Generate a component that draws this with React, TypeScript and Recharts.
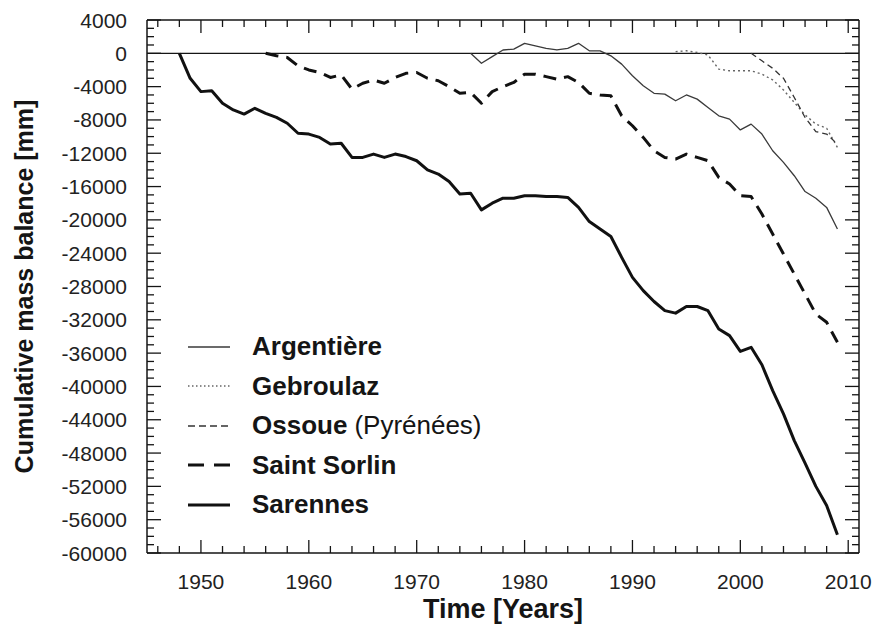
import { LineChart, Line, XAxis, YAxis, ReferenceLine, Legend } from "recharts";

// cumulative mass balance, mm w.e., one value per year from the start year
const argentiereStart = 1975;
const argentiere = [
    0, -1200, -400, 400, 500, 1200, 900, 600, 400, 600, 1200, 300, 300, -300, -1300,
    -2700, -3900, -4800, -4900, -5700, -5000, -5500, -6500, -7500, -7900, -9200, -8500,
    -9700, -11700, -13100, -14700, -16600, -17400, -18500, -21100,
];

const gebroulazStart = 1994;
const gebroulaz = [
    200, 300, 100, -200, -1900, -2100, -2100, -2100, -2500, -3200, -4400, -5900, -7400,
    -8500, -9000, -11300,
];

const ossoueStart = 2001;
const ossoue = [0, -900, -1800, -3000, -5300, -7700, -9400, -9700, -10900];

const saintSorlinStart = 1956;
const saintSorlin = [
    0, -300, -500, -1500, -2000, -2300, -2900, -2600, -4300, -3600, -3200, -3600, -2900,
    -2400, -2300, -3000, -3300, -4000, -4800, -4700, -6000, -4600, -4000, -3500, -2500,
    -2500, -2800, -3100, -2800, -3500, -4800, -5000, -5100, -7500, -8700, -10100, -11700,
    -12500, -12700, -12100, -12500, -12900, -14900, -15700, -17100, -17200, -19300, -21700,
    -24100, -26500, -28900, -31300, -32300, -34700,
];

const sarennesStart = 1948;
const sarennes = [
    0, -3000, -4600, -4500, -6000, -6800, -7300, -6600, -7200, -7700, -8400, -9600, -9700,
    -10100, -10900, -10800, -12500, -12500, -12100, -12500, -12100, -12400, -12900, -14000,
    -14500, -15400, -16900, -16800, -18800, -18000, -17400, -17400, -17100, -17100, -17200,
    -17200, -17300, -18500, -20200, -21100, -22000, -24500, -26900, -28500, -29800, -30900,
    -31200, -30400, -30400, -30900, -33100, -33900, -35800, -35300, -37400, -40500, -43300,
    -46500, -49200, -52000, -54300, -57800,
];

const xMajor = [1950, 1960, 1970, 1980, 1990, 2000, 2010];
const yMajor = [
    4000, 0, -4000, -8000, -12000, -16000, -20000, -24000, -28000, -32000, -36000, -40000,
    -44000, -48000, -52000, -56000, -60000,
];
const xDomain = [1945, 2011];
const yDomain = [-60000, 4000];

// minor ticks: every 2 years, every 1000 mm
const xTicks = Array.from({ length: 33 }, (_, i) => 1946 + i * 2);
const yTicks = Array.from({ length: 65 }, (_, i) => 4000 - i * 1000);

const pick = (values: number[], start: number, year: number) => {
    const v = values[year - start];
    return year >= start && v !== undefined ? v : undefined;
};

const rows = Array.from({ length: 2009 - 1948 + 1 }, (_, i) => 1948 + i).map((year) => ({
    year,
    argentiere: pick(argentiere, argentiereStart, year),
    gebroulaz: pick(gebroulaz, gebroulazStart, year),
    ossoue: pick(ossoue, ossoueStart, year),
    saintSorlin: pick(saintSorlin, saintSorlinStart, year),
    sarennes: pick(sarennes, sarennesStart, year),
}));

const FONT = "'Liberation Sans', Arial, sans-serif";
const INK = "#151515";

const series = [
    { key: "argentiere", name: "Argentière", stroke: "#3a3a3a", width: 1.3, dash: undefined, legendDash: undefined },
    { key: "gebroulaz", name: "Gebroulaz", stroke: "#666", width: 1.4, dash: "2 3", legendDash: "1.5 2.5" },
    { key: "ossoue", name: "Ossoue", stroke: "#333", width: 1.3, dash: "6 4", legendDash: "7 4" },
    { key: "saintSorlin", name: "Saint Sorlin", stroke: "#111", width: 3, dash: "13 8", legendDash: "16 10" },
    { key: "sarennes", name: "Sarennes", stroke: "#111", width: 3, dash: undefined, legendDash: undefined },
];

const legendNote: Record<string, string> = { Ossoue: "(Pyrénées)" };

// ticks point into the plot; long ones at labelled values
const BottomTick = ({ x, y, payload }: any) => {
    const major = xMajor.includes(payload.value);
    return (
        <g>
            <line x1={x} y1={y} x2={x} y2={y - (major ? 13 : 7)} stroke={INK} strokeWidth={1.3} />
            {major && (
                <text x={x} y={y + 28} textAnchor="middle" dominantBaseline="central" fontSize={21} fontFamily={FONT} fill="#222">
                    {payload.value}
                </text>
            )}
        </g>
    );
};

const TopTick = ({ x, y, payload }: any) => {
    const major = xMajor.includes(payload.value);
    return <line x1={x} y1={y} x2={x} y2={y + (major ? 13 : 7)} stroke={INK} strokeWidth={1.3} />;
};

const LeftTick = ({ x, y, payload }: any) => {
    const major = yMajor.includes(payload.value);
    return (
        <g>
            <line x1={x} y1={y} x2={x + (major ? 14 : 7)} y2={y} stroke={INK} strokeWidth={1.3} />
            {major && (
                <text x={x - 20} y={y} textAnchor="end" dominantBaseline="central" fontSize={21} fontFamily={FONT} fill="#222">
                    {payload.value}
                </text>
            )}
        </g>
    );
};

const RightTick = ({ x, y, payload }: any) => {
    const major = yMajor.includes(payload.value);
    return <line x1={x} y1={y} x2={x - (major ? 14 : 7)} y2={y} stroke={INK} strokeWidth={1.3} />;
};

const GlacierLegend = ({ payload }: any) => (
    <div style={{ fontFamily: FONT, color: INK }}>
        {(payload || []).map((entry: any) => {
            const s = series.find((item) => item.name === entry.value);
            if (!s) return null;
            return (
                <div key={s.key} style={{ display: "flex", alignItems: "center", height: 39.5 }}>
                    <svg width={42} height={6}>
                        <line x1={0} y1={3} x2={42} y2={3} stroke={s.stroke} strokeWidth={s.width} strokeDasharray={s.legendDash} />
                    </svg>
                    <span style={{ marginLeft: 22, fontSize: 26, fontWeight: 700, whiteSpace: "nowrap" }}>{s.name}</span>
                    {legendNote[s.name] && (
                        <span style={{ marginLeft: 7, fontSize: 26, fontWeight: 400, whiteSpace: "nowrap" }}>{legendNote[s.name]}</span>
                    )}
                </div>
            );
        })}
    </div>
);

export default function App() {
    return (
        <div style={{ position: "absolute", left: 0, top: 0, background: "#fff" }}>
            <LineChart width={874} height={633} data={rows} margin={{ top: 19, right: 14, bottom: 0, left: 0 }}>
                <XAxis
                    dataKey="year"
                    type="number"
                    domain={xDomain}
                    allowDataOverflow
                    ticks={xTicks}
                    interval={0}
                    tickSize={0}
                    tickMargin={0}
                    tick={BottomTick}
                    height={80}
                    axisLine={{ stroke: INK, strokeWidth: 1.5 }}
                    tickLine={false}
                    label={{
                        content: ({ viewBox }: any) => (
                            <text
                                x={viewBox.x + viewBox.width / 2}
                                y={viewBox.y + 56}
                                textAnchor="middle"
                                dominantBaseline="central"
                                fontSize={27}
                                fontWeight={700}
                                fontFamily={FONT}
                                fill={INK}
                            >
                                Time [Years]
                            </text>
                        ),
                    }}
                />
                <XAxis
                    xAxisId="top"
                    orientation="top"
                    dataKey="year"
                    type="number"
                    domain={xDomain}
                    allowDataOverflow
                    ticks={xTicks}
                    interval={0}
                    tickSize={0}
                    tickMargin={0}
                    tick={TopTick}
                    height={1}
                    axisLine={{ stroke: INK, strokeWidth: 1.5 }}
                    tickLine={false}
                />
                <YAxis
                    type="number"
                    domain={yDomain}
                    allowDataOverflow
                    ticks={yTicks}
                    interval={0}
                    tickSize={0}
                    tickMargin={0}
                    tick={LeftTick}
                    width={147}
                    axisLine={{ stroke: INK, strokeWidth: 1.5 }}
                    tickLine={false}
                    label={{
                        content: ({ viewBox }: any) => {
                            const cx = viewBox.x + 24;
                            const cy = viewBox.y + viewBox.height / 2;
                            return (
                                <text
                                    x={cx}
                                    y={cy}
                                    transform={`rotate(-90 ${cx} ${cy})`}
                                    textAnchor="middle"
                                    dominantBaseline="central"
                                    fontSize={25}
                                    fontWeight={700}
                                    fontFamily={FONT}
                                    fill={INK}
                                >
                                    Cumulative mass balance [mm]
                                </text>
                            );
                        },
                    }}
                />
                <YAxis
                    yAxisId="right"
                    orientation="right"
                    type="number"
                    domain={yDomain}
                    allowDataOverflow
                    ticks={yTicks}
                    interval={0}
                    tickSize={0}
                    tickMargin={0}
                    tick={RightTick}
                    width={1}
                    axisLine={{ stroke: INK, strokeWidth: 1.5 }}
                    tickLine={false}
                />
                <ReferenceLine y={0} stroke={INK} strokeWidth={1.3} />
                <Legend
                    layout="vertical"
                    align="center"
                    verticalAlign="middle"
                    content={GlacierLegend}
                    wrapperStyle={{ position: "absolute", left: 188, top: 327, width: "auto", height: "auto" }}
                />
                {series.map((s) => (
                    <Line
                        key={s.key}
                        type="linear"
                        dataKey={s.key}
                        name={s.name}
                        stroke={s.stroke}
                        strokeWidth={s.width}
                        strokeDasharray={s.dash}
                        strokeLinejoin="round"
                        dot={false}
                        activeDot={false}
                        isAnimationActive={false}
                    />
                ))}
            </LineChart>
        </div>
    );
}
